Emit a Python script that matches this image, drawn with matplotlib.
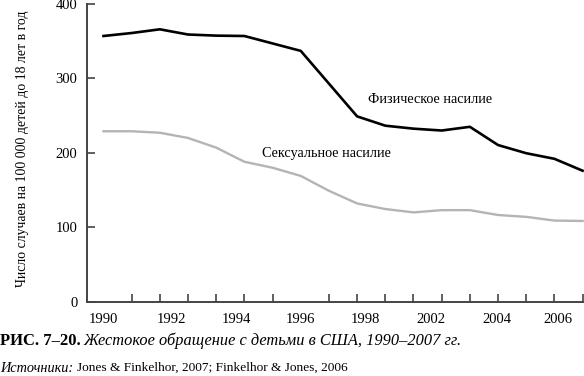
import matplotlib
matplotlib.use("Agg")
import matplotlib.pyplot as plt
import numpy as np

years = list(range(1990, 2008))
physical = [357, 361, 366, 359, 357.5, 357, 347, 337, 293, 249, 236.5, 232.5, 230, 235, 210.5, 199.5, 192, 176]
sexual = [229, 229, 227, 220, 207, 188, 180, 169, 149, 132, 124.5, 120, 123, 123, 116.5, 114, 109, 108.5]
xtick_labels = ["1990", "1992", "1994", "1996", "1998", "2002", "2004", "2006"]
ytick_values = [0, 100, 200, 300, 400]

# layout: where the (misaligned) year labels sit on the year scale
label_pos = [1990.0, 1992.4, 1994.7, 1997.0, 1999.31, 2001.61, 2003.95, 2006.12]

plt.rcParams['font.family'] = ['Liberation Serif', 'DejaVu Serif']
fig = plt.figure(figsize=(5.84, 3.76), dpi=100)
ax = fig.add_axes([87/584, 1-301.7/376, 1-87/584, (301.7-4)/376])

ax.plot(years, sexual, color='#b4b4b4', lw=1.7, solid_joinstyle='round')
ax.plot(years, physical, color='black', lw=1.9, solid_joinstyle='round')

ax.set_xlim(1989.415, 2007.05)
ax.set_ylim(0, 400)
for s in ['top', 'right']:
    ax.spines[s].set_visible(False)
for s in ['left', 'bottom']:
    ax.spines[s].set_color('#444444')
    ax.spines[s].set_linewidth(1.4)

ax.set_yticks(ytick_values)
ax.set_yticklabels([str(v) for v in ytick_values])
ax.tick_params(axis='y', direction='in', length=6, width=1.2, color='#444444', pad=7, labelsize=10.5)

ax.set_xticks(years, minor=True)
ax.set_xticks(label_pos)
ax.set_xticklabels(xtick_labels)
ax.tick_params(axis='x', which='minor', direction='in', length=5.5, width=1.2, color='#444444')
ax.tick_params(axis='x', which='major', length=0, pad=8, labelsize=10.5)

ax.set_ylabel("Число случаев на 100 000 детей до 18 лет в год", fontsize=9.9)
ax.yaxis.set_label_coords(-0.116, 0.515)

ax.text(2001.58, 272, "Физическое насилие", fontsize=10.3, ha='center', va='center')
ax.text(1997.9, 198.5, "Сексуальное насилие", fontsize=10.3, ha='center', va='center')

fig.text(0.0, 1-341/376, "РИС. 7–20.", fontsize=12, fontweight='bold', va='center', ha='left')
fig.text(83/584, 1-341/376, "Жестокое обращение с детьми в США, 1990–2007 гг.", fontsize=11.8, style='italic', va='center', ha='left')
fig.text(0.0, 1-368/376, "Источники:", fontsize=10.3, style='italic', va='center', ha='left')
fig.text(77/584, 1-368/376, "Jones & Finkelhor, 2007; Finkelhor & Jones, 2006", fontsize=9.6, va='center', ha='left')

fig.savefig("out.png", dpi=100)
